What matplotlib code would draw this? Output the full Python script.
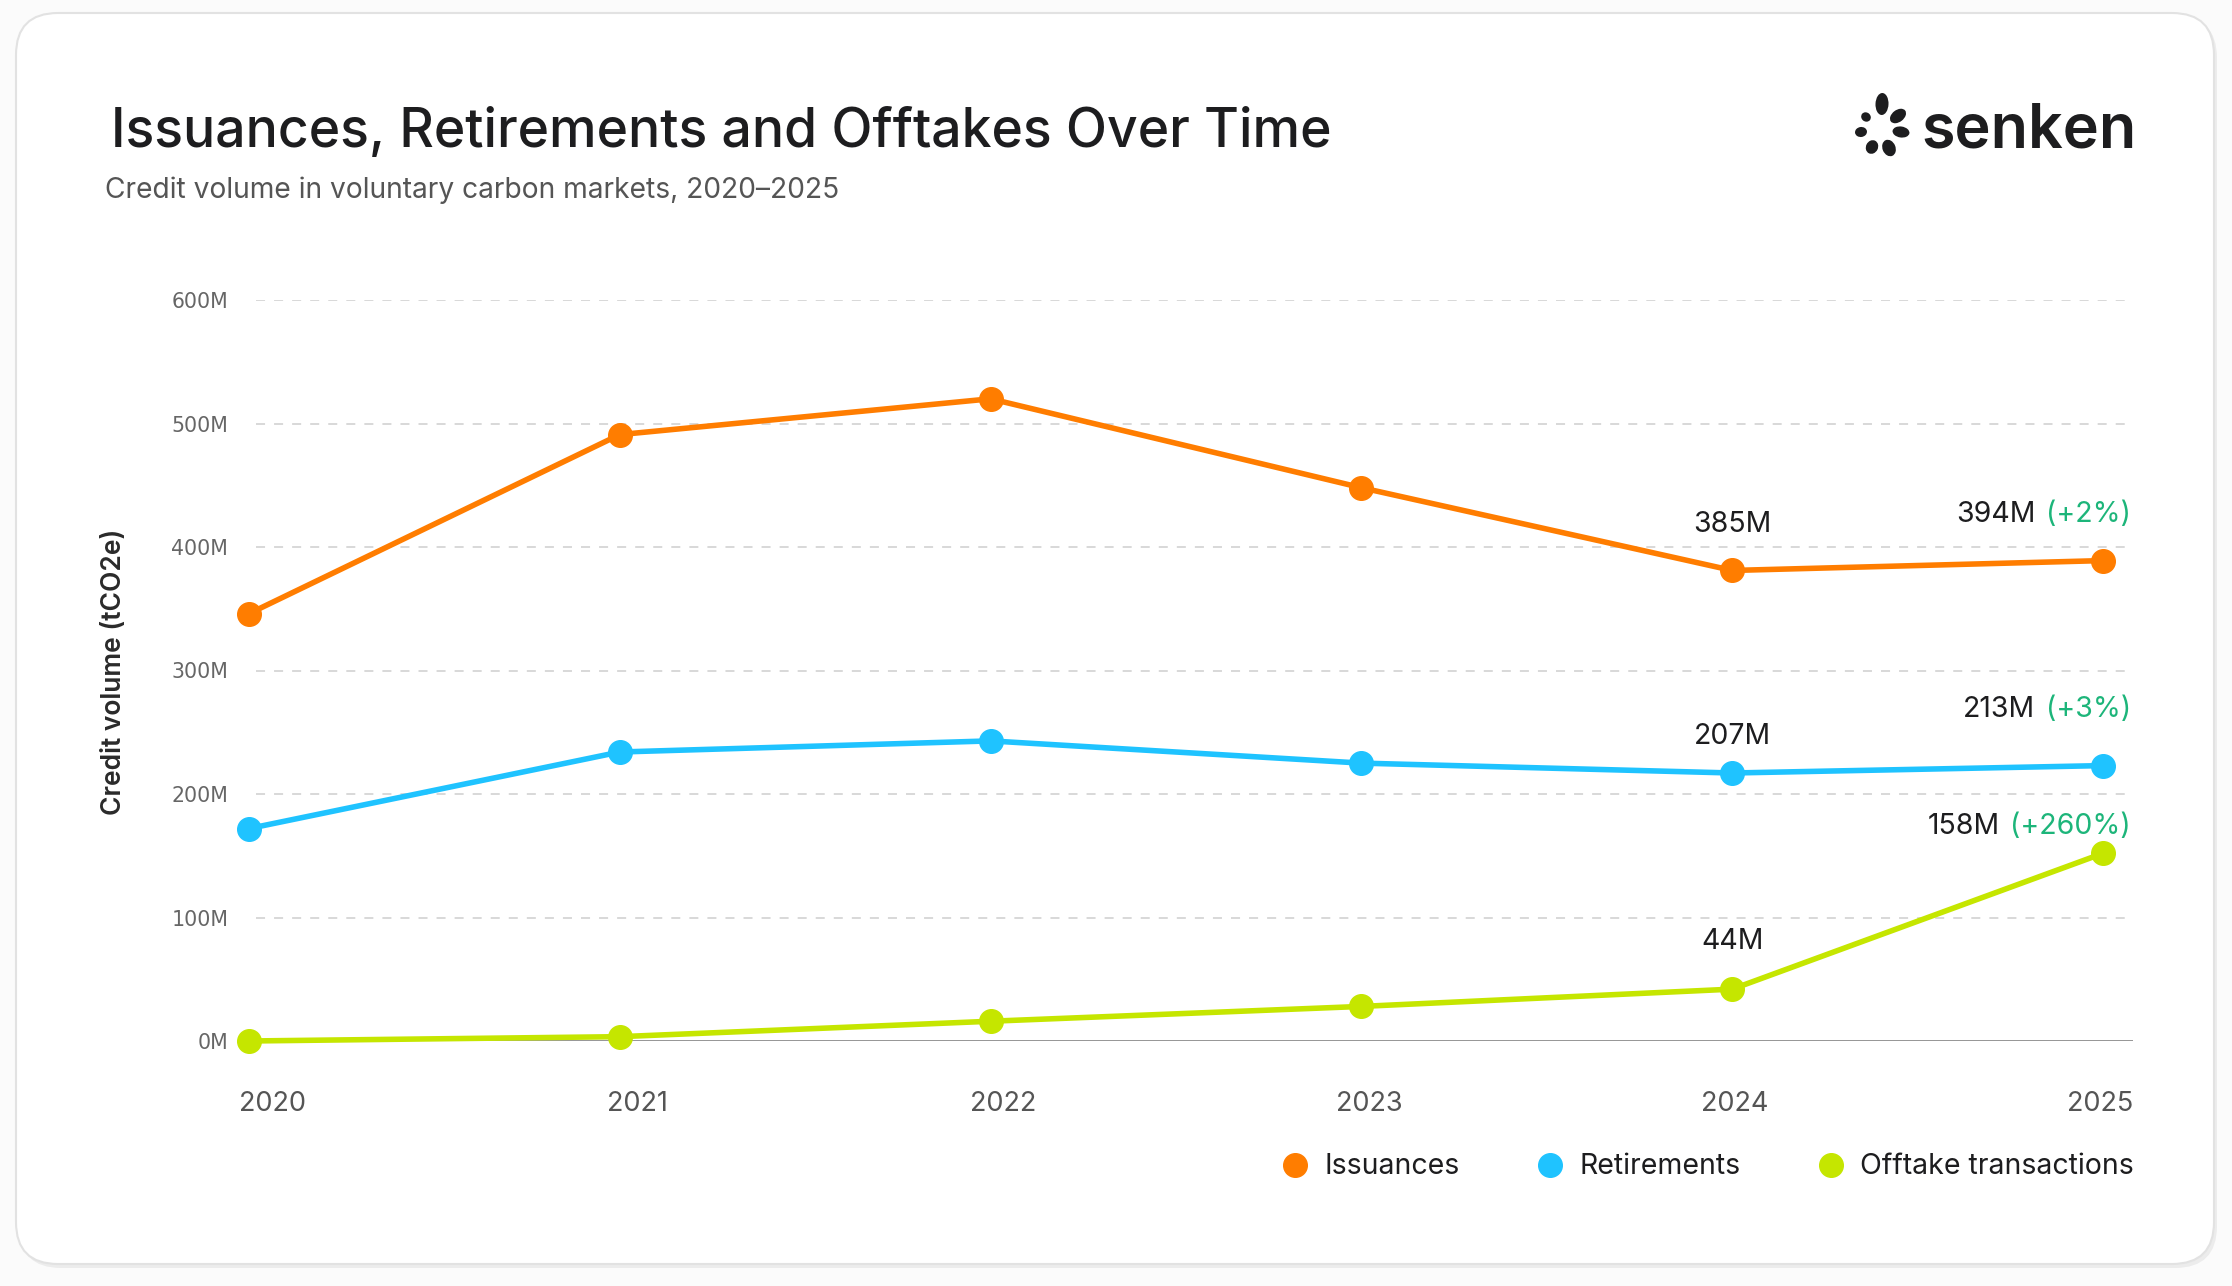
import matplotlib.pyplot as plt
from matplotlib.lines import Line2D
from matplotlib.patches import FancyBboxPatch, Ellipse
import numpy as np

# Data (million tCO2e)
years = ['2020', '2021', '2022', '2023', '2024', '2025']
issuances = [346, 491, 520, 448, 381, 389]
retirements = [172, 234, 243, 225, 217, 223]
offtakes = [0, 3.5, 16, 28, 42, 152]
series_names = ['Issuances', 'Retirements', 'Offtake transactions']
colors = ['#FF7D00', '#1FC3FF', '#C5E600']

labels_2024 = ['385M', '207M', '44M']
labels_2025 = ['394M', '213M', '158M']
changes_2025 = ['(+2%)', '(+3%)', '(+260%)']
yticks = [0, 100, 200, 300, 400, 500, 600]

W, H = 2232, 1286
plt.rcParams['font.family'] = ['Inter', 'DejaVu Sans']

fig = plt.figure(figsize=(W / 100, H / 100), dpi=100, facecolor='#fbfbfb')

# card background
bg = fig.add_axes([0, 0, 1, 1], zorder=-5)
bg.set_xlim(0, W)
bg.set_ylim(H, 0)
bg.axis('off')
bg.add_patch(FancyBboxPatch((19, 16), 2198, 1252, boxstyle='round,pad=0,rounding_size=42',
                            fc='#ececec', ec='none'))
bg.add_patch(FancyBboxPatch((16, 13), 2198, 1251, boxstyle='round,pad=0,rounding_size=42',
                            fc='white', ec='#e2e2e2', lw=1.5))

# titles
fig.text(111 / W, 1 - 147 / H, 'Issuances, Retirements and Offtakes Over Time',
         fontsize=38.5, weight='medium', color='#1d1d1f', va='baseline', ha='left')
fig.text(105 / W, 1 - 198 / H, 'Credit volume in voluntary carbon markets, 2020\u20132025',
         fontsize=20.3, color='#555555', va='baseline', ha='left')

# logo
fig.text(1921 / W, 1 - 148 / H, 'senken', fontsize=44, weight='semibold',
         color='#1d1d1f', va='baseline', ha='left')
lg = fig.add_axes([(1881 - 40) / W, 1 - (129 + 40) / H, 80 / W, 80 / H])
lg.set_xlim(-40, 40)
lg.set_ylim(40, -40)
lg.axis('off')
dots = [(1, -25, 22, 13), (17, -13, 18, 12), (20, 3, 17, 11), (8, 19, 17, 13),
        (-9, 18, 14, 12), (-20, 3, 12, 10), (-15, -12, 10, 9)]
for dx, dy, ln, wd in dots:
    lg.add_patch(Ellipse((dx, dy), ln, wd, angle=np.degrees(np.arctan2(dy, dx)),
                         fc='#1d1d1f', ec='none'))

# main axes
ax = fig.add_axes([256 / W, 1 - 1041 / H, (2133 - 256) / W, (1041 - 300) / H])
x = np.arange(len(years))
ax.set_xlim(0.0192, 5.0806)
ax.set_ylim(0, 600)
for s in ax.spines.values():
    s.set_visible(False)
ax.set_xticks([])
ax.set_yticks(yticks, [f'{v}M' for v in yticks], family='DejaVu Sans')
ax.tick_params(axis='y', length=0, pad=20, labelsize=14.8, labelcolor='#666666')
for v in yticks[1:]:
    ax.axhline(v, color='#d6d6d6', lw=1.3, ls=(0, (5, 5)), zorder=0)
ax.axhline(0, color='#777777', lw=1.8, zorder=1)

for vals, c in zip([issuances, retirements, offtakes], colors):
    ax.plot(x, vals, color=c, lw=4, marker='o', ms=17, clip_on=False, zorder=3)

# year labels sit on their own evenly spread scale
ax2 = ax.twiny()
ax2.set_xlim(-0.0438, 5.090)
ax2.set_xticks(x, years)
ax2.xaxis.set_ticks_position('bottom')
ax2.tick_params(axis='x', length=0, pad=36, labelsize=19.5, labelcolor='#555555')
for s in ax2.spines.values():
    s.set_visible(False)

fig.text(114 / W, 1 - 672 / H, 'Credit volume (tCO2e)', rotation=90, fontsize=19,
         weight='semibold', color='#2a2a2a', ha='center', va='center')

# callouts
off_2024 = [46, 37, 48]
off_2025 = [46, 56, 27]
for i, vals in enumerate([issuances, retirements, offtakes]):
    ax.annotate(labels_2024[i], (4, vals[4]), xytext=(0, off_2024[i]), textcoords='offset pixels',
                ha='center', va='center', fontsize=20.5, color='#1d1d1f')
    g = ax.annotate(changes_2025[i], (5, vals[5]), xytext=(28, off_2025[i]),
                    textcoords='offset pixels', ha='right', va='center', fontsize=20.5,
                    color='#1DB57A')
    ax.annotate(labels_2025[i], xy=(0, 0.5), xycoords=g, xytext=(-11, 0),
                textcoords='offset pixels', ha='right', va='center', fontsize=20.5,
                color='#1d1d1f')

handles = [Line2D([], [], marker='o', ls='', color=c, ms=17) for c in colors]
fig.legend(handles, series_names, loc='center right', bbox_to_anchor=(2148 / W, 1 - 1167 / H),
           ncol=3, frameon=False, fontsize=20.5, handlelength=0.85, handletextpad=0.6,
           columnspacing=2.75, borderpad=0, labelcolor='#1d1d1f')

fig.savefig('out.png', dpi=100, facecolor=fig.get_facecolor())
